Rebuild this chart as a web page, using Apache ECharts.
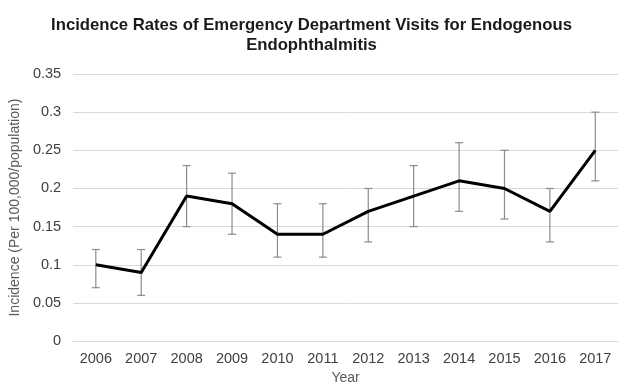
<!DOCTYPE html>
<html>
<head>
<meta charset="utf-8">
<script src="https://cdn.jsdelivr.net/npm/echarts@6/dist/echarts.min.js"></script>
<style>
    html, body { margin: 0; padding: 0; background: #fff; }
    #main { width: 623px; height: 390px; }
</style>
</head>
<body>
<div id="main"></div>
<script>
//--------------------数据---------------------------
var years = ['2006','2007','2008','2009','2010','2011','2012','2013','2014','2015','2016','2017'];
var rates = [0.10, 0.09, 0.19, 0.18, 0.14, 0.14, 0.17, 0.19, 0.21, 0.20, 0.17, 0.25];
var lowers = [0.07, 0.06, 0.15, 0.14, 0.11, 0.11, 0.13, 0.15, 0.17, 0.16, 0.13, 0.21];
var uppers = [0.12, 0.12, 0.23, 0.22, 0.18, 0.18, 0.20, 0.23, 0.26, 0.25, 0.20, 0.30];
//--------------------数据---------------------------

var errData = years.map(function (y, i) {
    return [i, lowers[i], uppers[i]];
});

var myChart = echarts.init(document.getElementById('main'));
var font = 'Liberation Sans, Arial, sans-serif';

option = {
    backgroundColor: '#fff',
    animation: false,
    title: {
        text: 'Incidence Rates of Emergency Department Visits for Endogenous\nEndophthalmitis',
        left: 'center',
        top: 10,
        textStyle: {
            fontFamily: font,
            fontSize: 16.7,
            fontWeight: 'bold',
            color: '#1a1a1a',
            lineHeight: 20
        }
    },
    grid: {
        left: 72,
        right: 5,
        top: 74,
        bottom: 45
    },
    xAxis: {
        type: 'category',
        data: years,
        name: 'Year',
        nameLocation: 'middle',
        nameGap: 28,
        nameTextStyle: { fontFamily: font, fontSize: 14, color: '#595959' },
        axisLine: { show: true, lineStyle: { color: '#d9d9d9' } },
        axisTick: { show: false },
        axisLabel: { fontFamily: font, fontSize: 14.5, color: '#404040', margin: 10 }
    },
    yAxis: {
        type: 'value',
        min: 0,
        max: 0.35,
        interval: 0.05,
        name: 'Incidence (Per 100,000/population)',
        nameLocation: 'middle',
        nameGap: 48,
        nameTextStyle: { fontFamily: font, fontSize: 14, color: '#595959' },
        axisLine: { show: false },
        axisTick: { show: false },
        splitLine: { lineStyle: { color: '#d9d9d9', width: 1 } },
        axisLabel: { fontFamily: font, fontSize: 14.5, color: '#404040', margin: 12 }
    },
    series: [
        {
            name: 'Incidence',
            type: 'line',
            data: rates,
            symbol: 'none',
            lineStyle: { color: '#000', width: 3 },
            z: 3
        },
        {
            name: 'error',
            type: 'custom',
            data: errData,
            z: 2,
            renderItem: function (params, api) {
                var x = api.value(0);
                var lo = api.coord([x, api.value(1)]);
                var hi = api.coord([x, api.value(2)]);
                var half = 4;
                var style = { stroke: '#8c8c8c', lineWidth: 1.2 };
                return {
                    type: 'group',
                    children: [
                        { type: 'line', shape: { x1: hi[0], y1: hi[1], x2: lo[0], y2: lo[1] }, style: style },
                        { type: 'line', shape: { x1: hi[0] - half, y1: hi[1], x2: hi[0] + half, y2: hi[1] }, style: style },
                        { type: 'line', shape: { x1: lo[0] - half, y1: lo[1], x2: lo[0] + half, y2: lo[1] }, style: style }
                    ]
                };
            }
        }
    ]
};
myChart.setOption(option);
</script>
</body>
</html>
